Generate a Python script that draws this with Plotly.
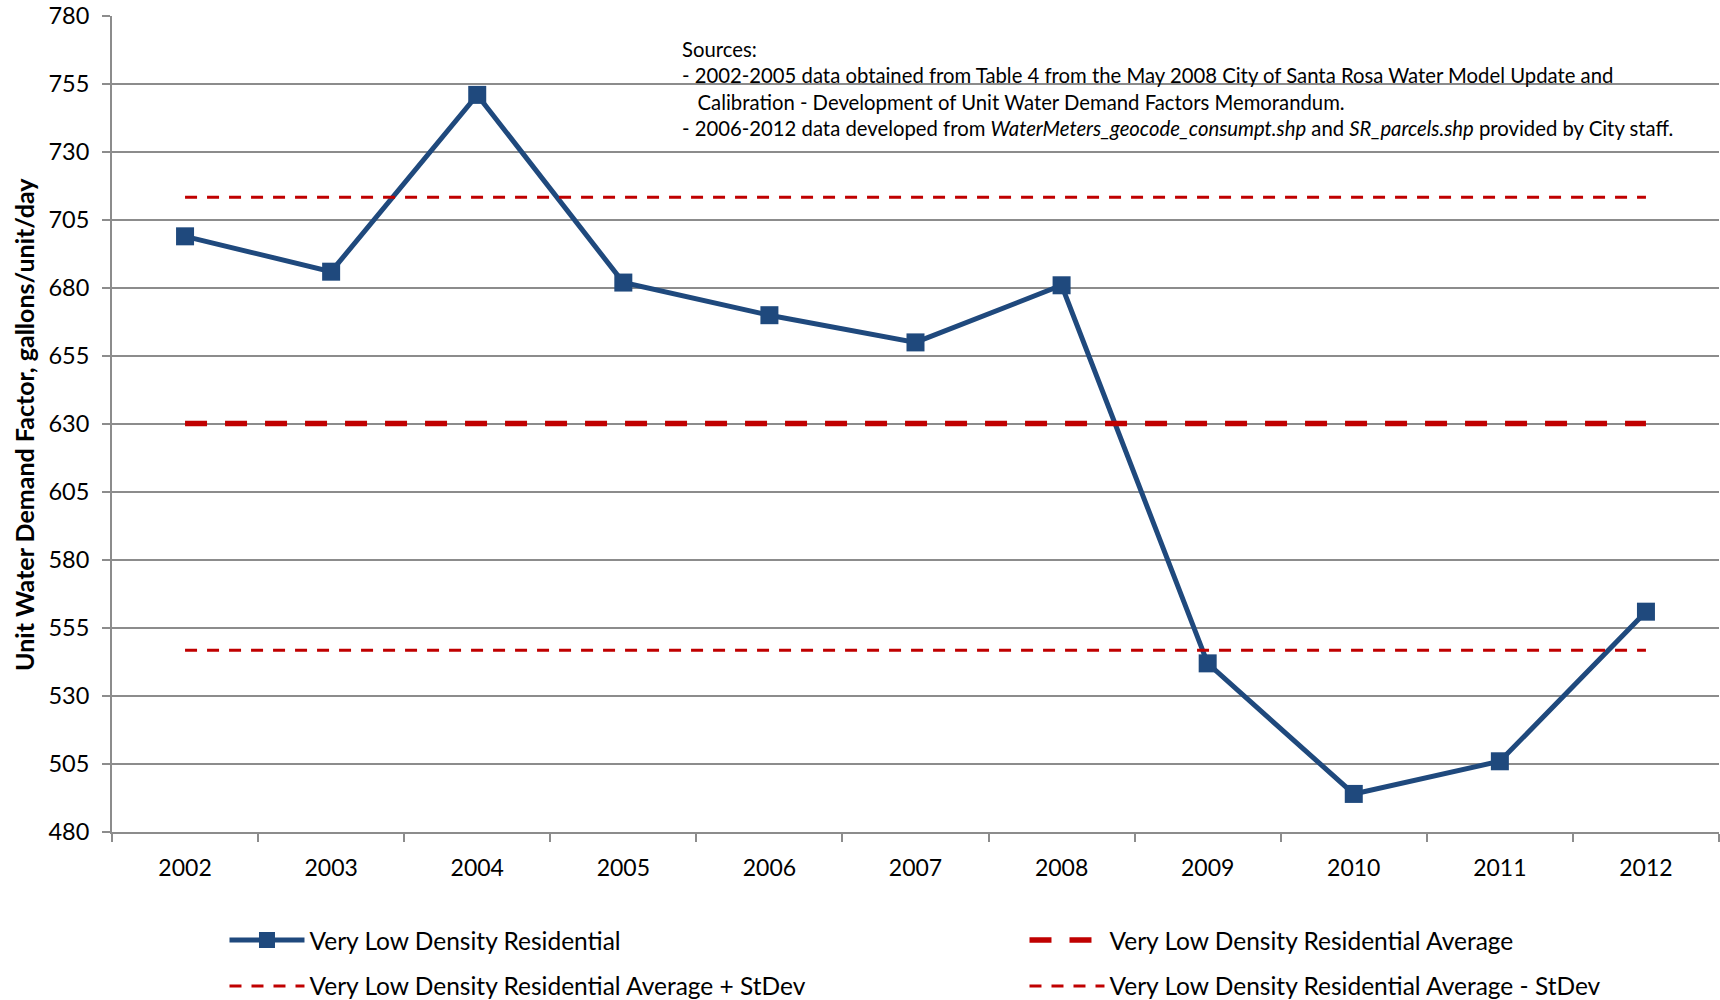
import plotly.graph_objects as go

years = ["2002", "2003", "2004", "2005", "2006", "2007", "2008", "2009", "2010", "2011", "2012"]
demand = [699, 686, 751, 682, 670, 660, 681, 542, 494, 506, 561]
avg_level = 630.2
plus_sd_level = 713.4
minus_sd_level = 546.8
y_ticks = [480, 505, 530, 555, 580, 605, 630, 655, 680, 705, 730, 755, 780]

names = ["Very Low Density Residential", "Very Low Density Residential Average",
         "Very Low Density Residential Average + StDev", "Very Low Density Residential Average - StDev"]

FONT = "Lato, Calibri, Carlito, sans-serif"
BLUE = "#1F497D"
RED = "#C00000"
GRID = "#8C8C8C"

fig = go.Figure()
fig.add_trace(go.Scatter(
    x=years, y=demand, mode="lines+markers", name=names[0],
    line=dict(color=BLUE, width=5),
    marker=dict(symbol="square", size=18, color=BLUE),
    legend="legend",
))
fig.add_trace(go.Scatter(
    x=years, y=[avg_level] * len(years), mode="lines", name=names[1],
    line=dict(color=RED, width=5.5, dash="22px,18px"),
    legend="legend",
))
fig.add_trace(go.Scatter(
    x=years, y=[plus_sd_level] * len(years), mode="lines", name=names[2],
    line=dict(color=RED, width=3, dash="12px,10px"),
    legend="legend2",
))
fig.add_trace(go.Scatter(
    x=years, y=[minus_sd_level] * len(years), mode="lines", name=names[3],
    line=dict(color=RED, width=3, dash="12px,10px"),
    legend="legend2",
))

# white box behind the sources note (covers gridlines)
fig.add_shape(type="rect", xref="paper", yref="paper",
              x0=0.341, x1=0.9925, y0=0.8174, y1=0.9975,
              fillcolor="white", line=dict(width=0), layer="between")

fig.add_annotation(
    xref="paper", yref="paper", x=0.3535, y=0.977, xanchor="left", yanchor="top",
    align="left", showarrow=False,
    font=dict(family=FONT, size=20.3, color="black"),
    text=("Sources:<br>"
          "- 2002-2005 data obtained from Table 4 from the May 2008 City of Santa Rosa Water Model Update and<br>"
          "   Calibration - Development of Unit Water Demand Factors Memorandum.<br>"
          "- 2006-2012 data developed from <i>WaterMeters_geocode_consumpt.shp</i> and "
          "<i>SR_parcels.shp</i> provided by City staff."),
)

fig.add_annotation(
    xref="paper", yref="paper", x=-0.0548, y=0.5, xanchor="center", yanchor="middle",
    textangle=-90, showarrow=False,
    font=dict(family=FONT, size=25, color="black", weight="bold"),
    text="Unit Water Demand Factor, gallons/unit/day",
)

legend_common = dict(
    orientation="h", xanchor="left", yanchor="middle",
    font=dict(family=FONT, size=24.5, color="black"),
    entrywidth=710, entrywidthmode="pixels", itemwidth=75,
    bgcolor="rgba(0,0,0,0)", borderwidth=0, traceorder="normal",
)

fig.update_layout(
    width=1720, height=1000, autosize=False,
    margin=dict(l=112, r=1, t=16, b=168, autoexpand=False),
    paper_bgcolor="white", plot_bgcolor="white",
    font=dict(family=FONT, size=23, color="black"),
    showlegend=True,
    legend=dict(x=0.070, y=-0.1324, **legend_common),
    legend2=dict(x=0.070, y=-0.1887, **legend_common),
    xaxis=dict(
        type="category", range=[-0.5, 10.5], showgrid=False,
        showline=True, linecolor=GRID, linewidth=2,
        ticks="outside", tickson="boundaries", ticklen=8, tickwidth=2, tickcolor=GRID,
        ticklabelstandoff=14, tickfont=dict(family=FONT, size=23),
    ),
    yaxis=dict(
        range=[480, 780], tickvals=y_ticks, showgrid=True, gridcolor=GRID, gridwidth=1.5,
        showline=True, linecolor=GRID, linewidth=2, zeroline=False,
        ticks="outside", ticklen=8, tickwidth=2, tickcolor=GRID,
        ticklabelstandoff=8, tickfont=dict(family=FONT, size=23.5),
    ),
    hovermode=False,
)

fig.write_html("out.html", config={"displayModeBar": False},
               post_script="document.body.style.margin='0';document.body.style.overflow='hidden';")
